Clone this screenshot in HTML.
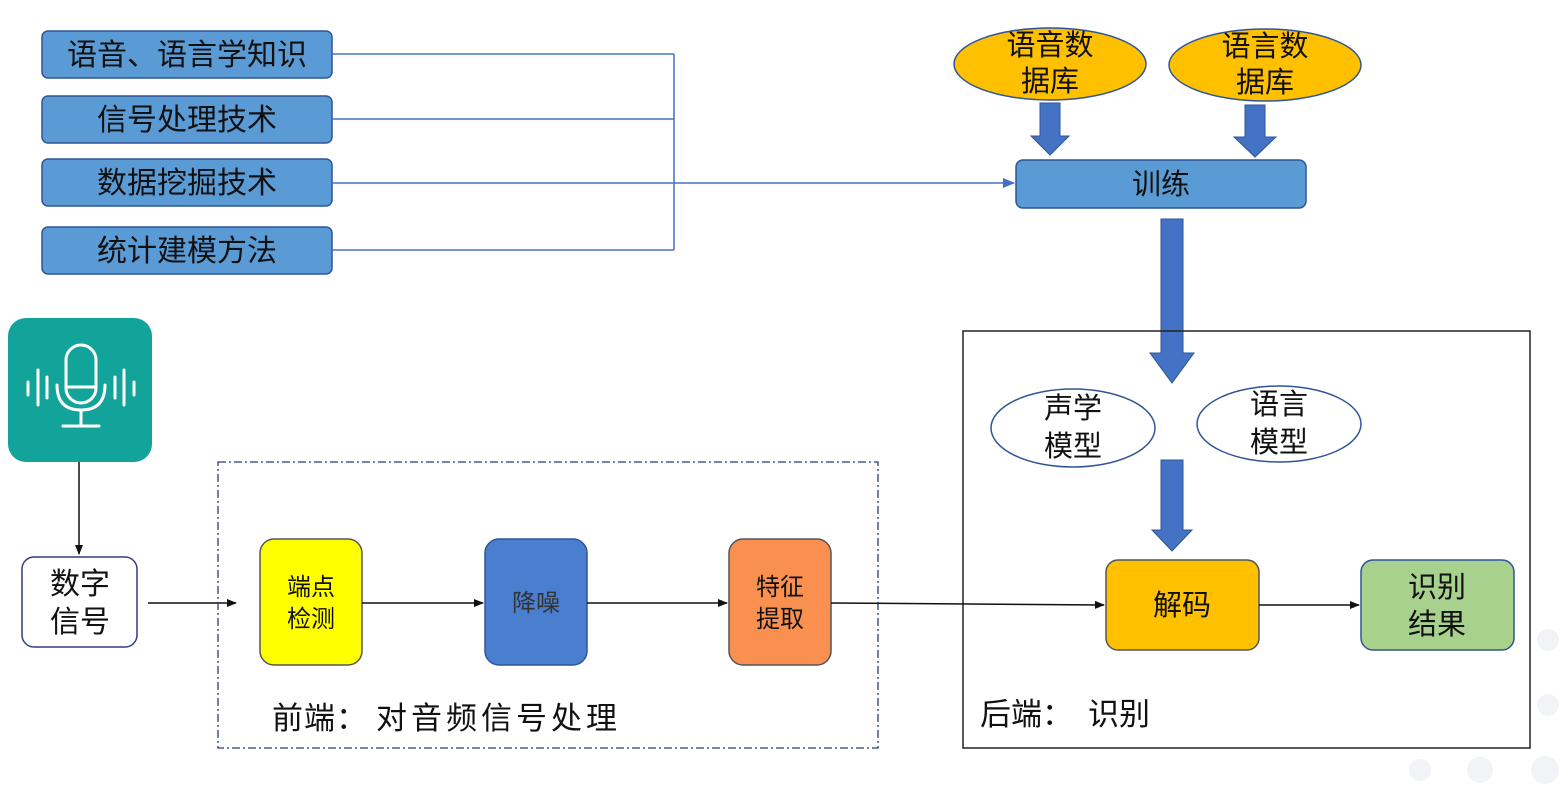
<!DOCTYPE html>
<html><head><meta charset="utf-8"><style>
html,body{margin:0;padding:0;background:#fff;}
svg{display:block}
text{font-family:"Liberation Sans","Noto Sans CJK SC",sans-serif;fill:#111;}
</style></head><body>
<svg width="1562" height="794" viewBox="0 0 1562 794" xmlns="http://www.w3.org/2000/svg">
<defs>
<marker id="ah" markerWidth="10" markerHeight="10" refX="9" refY="5" orient="auto" markerUnits="userSpaceOnUse"><path d="M0,1 L10,5 L0,9 z" fill="#111"/></marker>
<marker id="ahb" markerWidth="12" markerHeight="12" refX="11" refY="6" orient="auto" markerUnits="userSpaceOnUse"><path d="M0,1 L12,6 L0,11 z" fill="#4472c4"/></marker>
</defs>
<g fill="#f1f3f7">
<circle cx="1548" cy="640" r="11"/><circle cx="1548" cy="705" r="11"/>
<circle cx="1420" cy="770" r="11"/><circle cx="1480" cy="770" r="13"/><circle cx="1545" cy="770" r="14"/>
</g>
<g fill="#5b9bd5" stroke="#2f5597" stroke-width="1.5">
<rect x="42" y="31" width="290" height="47" rx="6"/>
<rect x="42" y="96" width="290" height="47" rx="6"/>
<rect x="42" y="159" width="290" height="47" rx="6"/>
<rect x="42" y="227" width="290" height="47" rx="6"/>
</g>
<g font-size="30" text-anchor="middle">
<text x="187" y="65">语音、语言学知识</text>
<text x="187" y="130">信号处理技术</text>
<text x="187" y="193">数据挖掘技术</text>
<text x="187" y="261">统计建模方法</text>
</g>
<g stroke="#4472c4" stroke-width="1.5" fill="none">
<path d="M332,54 H674 M332,119 H674 M332,183 H674 M332,250 H674 M674,54 V250"/>
<path d="M674,183 H1014" marker-end="url(#ahb)"/>
</g>
<g fill="#ffc000" stroke="#2f5597" stroke-width="1.5">
<ellipse cx="1050" cy="64" rx="96" ry="36"/>
<ellipse cx="1265" cy="65" rx="96" ry="36"/>
</g>
<g font-size="29" text-anchor="middle">
<text x="1050" y="55">语音数</text><text x="1050" y="91">据库</text>
<text x="1265" y="56">语言数</text><text x="1265" y="92">据库</text>
</g>
<g fill="#4472c4" stroke="#2f5597" stroke-width="1">
<path d="M1040,103 H1060 V136 H1069 L1050,155 L1031,136 H1040 Z"/>
<path d="M1245,105 H1265 V137 H1276 L1255,157 L1234,137 H1245 Z"/>
<path d="M1161,219 H1183 V353 H1194 L1172,383 L1150,353 H1161 Z"/>
<path d="M1161,460 H1183 V530 H1192 L1172,551 L1152,530 H1161 Z"/>
</g>
<rect x="1016" y="160" width="290" height="48" rx="7" fill="#5b9bd5" stroke="#2f5597" stroke-width="1.5"/>
<text x="1161" y="194" font-size="29" text-anchor="middle">训练</text>
<rect x="963" y="331" width="567" height="417" fill="none" stroke="#222" stroke-width="1.5"/>
<g fill="#fff" stroke="#2f5597" stroke-width="1.5">
<ellipse cx="1073" cy="428" rx="82" ry="39"/>
<ellipse cx="1279" cy="424" rx="82" ry="38"/>
</g>
<g font-size="29" text-anchor="middle">
<text x="1073" y="418">声学</text><text x="1073" y="456">模型</text>
<text x="1279" y="414">语言</text><text x="1279" y="452">模型</text>
</g>
<rect x="1106" y="560" width="153" height="90" rx="12" fill="#ffc000" stroke="#555" stroke-width="1.5"/>
<text x="1182" y="615" font-size="29" text-anchor="middle">解码</text>
<rect x="1361" y="560" width="153" height="90" rx="12" fill="#a9d18e" stroke="#2f5597" stroke-width="1.5"/>
<text x="1437" y="597" font-size="29" text-anchor="middle">识别</text>
<text x="1437" y="634" font-size="29" text-anchor="middle">结果</text>
<text x="980" y="725" font-size="31">后端：<tspan x="1088">识别</tspan></text>
<rect x="8" y="318" width="144" height="144" rx="18" fill="#12a39a"/>
<g stroke="#fff" stroke-width="3" fill="none" stroke-linecap="round">
<rect x="66" y="345" width="30" height="58" rx="15"/>
<path d="M66,387 H96"/>
<path d="M57,385 Q57,410 81,410 Q105,410 105,385"/>
<path d="M81,410 V426 M63,426 H99"/>
<path d="M28,382 V395 M38,370 V405 M47,377 V398 M115,377 V398 M124,370 V405 M134,382 V395"/>
</g>
<path d="M79,462 V554" stroke="#111" stroke-width="1.5" marker-end="url(#ah)"/>
<rect x="22" y="557" width="115" height="90" rx="12" fill="#fff" stroke="#2f3f7f" stroke-width="1.5"/>
<text x="80" y="594" font-size="30" text-anchor="middle">数字</text>
<text x="80" y="632" font-size="30" text-anchor="middle">信号</text>
<path d="M148,603 H236" stroke="#111" stroke-width="1.5" marker-end="url(#ah)"/>
<rect x="218" y="462" width="660" height="286" fill="none" stroke="#2a3a78" stroke-width="1.3" stroke-dasharray="8,3,2,3"/>
<rect x="260" y="539" width="102" height="126" rx="14" fill="#ffff00" stroke="#555" stroke-width="1.5"/>
<text x="311" y="595" font-size="24" text-anchor="middle">端点</text>
<text x="311" y="627" font-size="24" text-anchor="middle">检测</text>
<rect x="485" y="539" width="102" height="126" rx="14" fill="#4a7ecf" stroke="#2f5597" stroke-width="1.5"/>
<text x="536" y="611" font-size="24" text-anchor="middle" style="fill:#333">降噪</text>
<rect x="729" y="539" width="102" height="126" rx="14" fill="#fa9050" stroke="#555" stroke-width="1.5"/>
<text x="780" y="595" font-size="24" text-anchor="middle">特征</text>
<text x="780" y="627" font-size="24" text-anchor="middle">提取</text>
<g stroke="#111" stroke-width="1.5" fill="none">
<path d="M362,603 H483" marker-end="url(#ah)"/>
<path d="M587,603 H727" marker-end="url(#ah)"/>
<path d="M831,603 L1104,605" marker-end="url(#ah)"/>
<path d="M1259,605 H1359" marker-end="url(#ah)"/>
</g>
<text x="272" y="729" font-size="31" letter-spacing="1">前端：<tspan x="376" letter-spacing="4">对音频信号处理</tspan></text>
</svg>
</body></html>
